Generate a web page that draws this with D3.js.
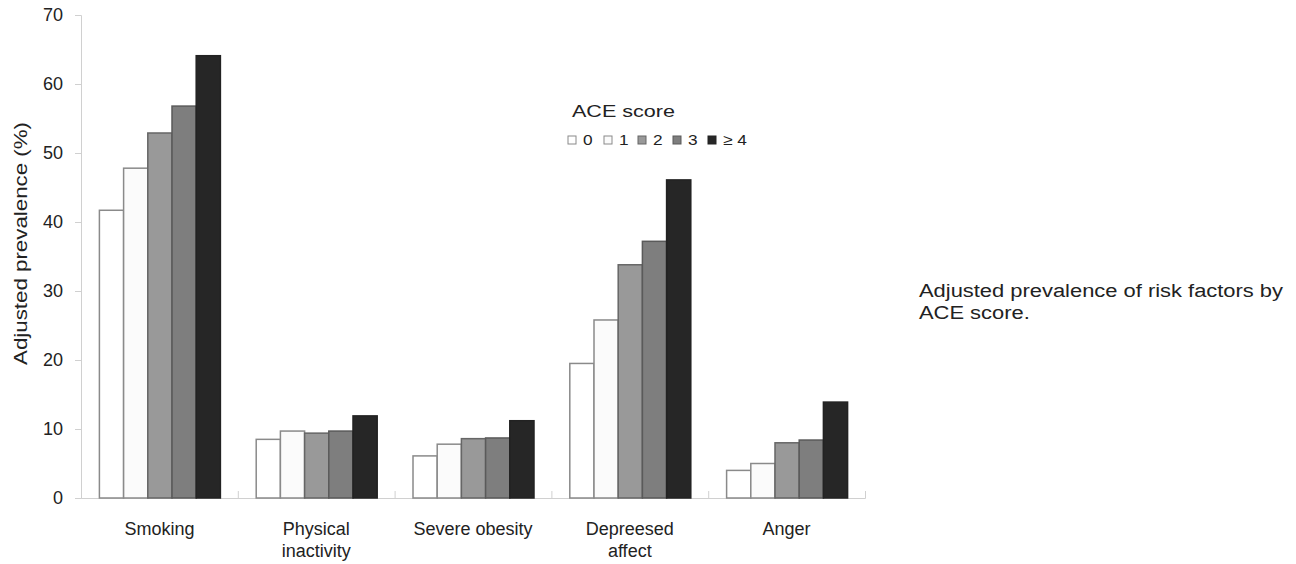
<!DOCTYPE html>
<html><head><meta charset="utf-8">
<script src="https://cdn.jsdelivr.net/npm/d3@7"></script>
<style>body{margin:0;background:#fff;font-family:"Liberation Sans",Arial,sans-serif;}</style>
</head><body>
<svg id="c" width="1296" height="564" font-family="Liberation Sans, Arial, sans-serif"></svg>
<script>
const categories = [["Smoking"], ["Physical", "inactivity"], ["Severe obesity"], ["Depreesed", "affect"], ["Anger"]];
const scores = ["0", "1", "2", "3", "≥ 4"];
const smoking = [41.7, 47.8, 52.9, 56.8, 64.1];
const physical = [8.5, 9.7, 9.4, 9.7, 11.9];
const obesity = [6.1, 7.8, 8.6, 8.7, 11.2];
const depressed = [19.5, 25.8, 33.8, 37.2, 46.1];
const anger = [4.0, 5.0, 8.0, 8.4, 13.9];
const yTicks = [0, 10, 20, 30, 40, 50, 60, 70];
const seriesByCategory = [smoking, physical, obesity, depressed, anger];
const fills = ["#ffffff", "#fbfbfb", "#999999", "#7e7e7e", "#262626"];
const strokes = ["#8a8a8a", "#8a8a8a", "#666666", "#5a5a5a", "#222222"];

const svg = d3.select("#c");
const mLeft = 81, mRight = 865, mTop = 15, mBottom = 498;
const x0 = d3.scaleBand().domain(d3.range(categories.length)).range([mLeft, mRight]).paddingInner(0).paddingOuter(0);
const x1 = d3.scaleBand().domain(d3.range(scores.length)).range([0, x0.bandwidth()]).paddingInner(0).paddingOuter(0.74);
const y = d3.scaleLinear().domain([0, 70]).range([mBottom, mTop]);

function stretch(sel, factor) {
  sel.each(function () {
    const len = this.getComputedTextLength();
    d3.select(this).attr("textLength", len * factor).attr("lengthAdjust", "spacingAndGlyphs");
  });
}

// y axis
const ya = svg.append("g").attr("transform", `translate(${mLeft},0)`)
  .call(d3.axisLeft(y).tickValues(yTicks).tickSize(6).tickPadding(12));
ya.select(".domain").attr("stroke", "#d0d0d0");
ya.selectAll(".tick line").attr("stroke", "#d0d0d0");
ya.selectAll(".tick text").attr("font-size", 18).attr("fill", "#222").attr("font-family", "Liberation Sans, Arial, sans-serif");

// x axis
const xa = svg.append("g").attr("transform", `translate(0,${mBottom})`)
  .call(d3.axisBottom(d3.scaleLinear().domain([0, 5]).range([mLeft, mRight])).tickValues(d3.range(6)).tickSize(-7).tickFormat(""));
xa.select(".domain").attr("stroke", "#d0d0d0");
xa.selectAll(".tick line").attr("stroke", "#d0d0d0");

// bars
const groups = svg.append("g").selectAll("g").data(seriesByCategory).join("g")
  .attr("transform", (d, i) => `translate(${x0(i)},0)`);
groups.selectAll("rect").data(d => d).join("rect")
  .attr("x", (d, j) => x1(j) + 0.5)
  .attr("width", x1.bandwidth())
  .attr("y", d => y(d))
  .attr("height", d => mBottom - y(d))
  .attr("fill", (d, j) => fills[j])
  .attr("stroke", (d, j) => strokes[j])
  .attr("stroke-width", 1.5);

// category labels
const lab = svg.append("g").selectAll("text").data(categories).join("text")
  .attr("x", (d, i) => x0(i) + x0.bandwidth() / 2)
  .attr("y", 535)
  .attr("text-anchor", "middle")
  .attr("font-size", 18).attr("fill", "#222");
lab.selectAll("tspan").data(d => d).join("tspan")
  .attr("x", function () { return d3.select(this.parentNode).attr("x"); })
  .attr("dy", (d, k) => k === 0 ? 0 : 22)
  .text(d => d);

// y title
svg.append("text").attr("transform", "translate(27,243.5) rotate(-90)")
  .attr("text-anchor", "middle").attr("font-size", 18).attr("fill", "#222")
  .attr("textLength", 243).attr("lengthAdjust", "spacingAndGlyphs")
  .text("Adjusted prevalence (%)");

// legend
svg.append("text").attr("x", 572).attr("y", 117).attr("font-size", 17).attr("fill", "#222")
  .attr("textLength", 103).attr("lengthAdjust", "spacingAndGlyphs").text("ACE score");
const legX = [568, 604, 638, 673, 708];
const lg = svg.append("g").selectAll("g").data(scores).join("g")
  .attr("transform", (d, i) => `translate(${legX[i]},136)`);
lg.append("rect").attr("width", 8).attr("height", 8)
  .attr("fill", (d, i) => fills[i]).attr("stroke", (d, i) => strokes[i]).attr("stroke-width", 1);
const lt = lg.append("text").attr("x", 15).attr("y", 8.5).attr("font-size", 15).attr("fill", "#222").text(d => d);
stretch(lt, 1.15);

// caption
const c1 = svg.append("text").attr("x", 919).attr("y", 297).attr("font-size", 18).attr("fill", "#222")
  .text("Adjusted prevalence of risk factors by");
const f = 364 / c1.node().getComputedTextLength();
stretch(c1, f);
const c2 = svg.append("text").attr("x", 919).attr("y", 319).attr("font-size", 18).attr("fill", "#222")
  .text("ACE score.");
stretch(c2, f);
</script>
</body></html>
